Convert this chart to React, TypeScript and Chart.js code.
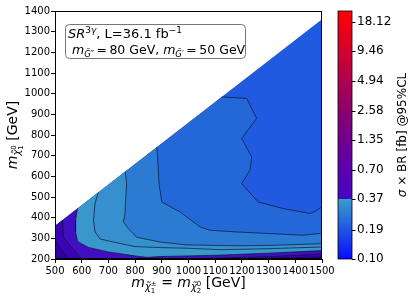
import React, { useEffect, useRef } from "react";
import { Chart, registerables } from "chart.js";

Chart.register(...registerables);

// ---------- axis ranges & ticks ----------
const xMin = 500;
const xMax = 1500;
const yMin = 200;
const yMax = 1400;
const xTicks = [500, 600, 700, 800, 900, 1000, 1100, 1200, 1300, 1400, 1500];
const yTicks = [200, 300, 400, 500, 600, 700, 800, 900, 1000, 1100, 1200, 1300, 1400];
const cbTicks = [0.1, 0.19, 0.37, 0.7, 1.35, 2.58, 4.94, 9.46, 18.12];
const cbMin = 0.1;
const cbMax = 22.9;

type P = [number, number];

// kinematic edge of the scanned grid (upper-left limit)
const kinEdge: P[] = [[500, 360], [1500, 1360]];

// contour lines (from lowest level, top-right, to highest, bottom-left)
const contour1: P[] = [[1124, 984], [1218, 977], [1255, 880], [1199, 783], [1237, 694], [1230, 630], [1199, 565], [1261, 476], [1355, 444], [1455, 420], [1480, 436], [1500, 452]];
const contour2: P[] = [[881, 741], [884, 700], [890, 560], [900, 476], [969, 427], [1044, 355], [1081, 339], [1180, 331], [1305, 323], [1430, 315], [1500, 325]];
const contour3: P[] = [[763, 623], [768, 565], [762, 420], [756, 380], [775, 347], [806, 305], [894, 282], [994, 268], [1055, 267], [1180, 264], [1305, 266], [1500, 274]];
const contour4: P[] = [[662, 522], [650, 470], [644, 387], [650, 331], [669, 297], [725, 280], [800, 260], [900, 255], [1000, 252], [1118, 245], [1305, 250], [1500, 258]];
const contour5: P[] = [[584, 444], [577, 387], [577, 331], [585, 284], [625, 256], [700, 234], [800, 215], [844, 208], [894, 212], [994, 215], [1100, 218], [1300, 228], [1500, 241]];
const contour6Corner: P[] = [[529, 389], [531, 307], [556, 266], [600, 200]];
const contour6Bottom: P[] = [[950, 200], [1150, 206], [1350, 214], [1500, 224]];
const contour7Corner: P[] = [[500, 290], [525, 240], [552, 200]];
const contour7Bottom: P[] = [[1150, 200], [1350, 205], [1500, 211]];

// band fill colours (lowest to highest)
const bandColors = ["#1f5ae0", "#2468d8", "#2b7bd3", "#3590cd", "#3a97cc", "#4010c0", "#3a04b4", "#3300a6"];

// colormap stops for the colour bar
const cmapValues = [0.1, 0.19, 0.369, 0.371, 0.7, 1.35, 2.58, 4.94, 9.46, 18.12, 22.9];
const cmapColors = ["#0a0aff", "#1f55e2", "#3a9bcf", "#4608c6", "#5a00b0", "#700090", "#8c0070", "#b00050", "#d40030", "#f40010", "#ff0000"];

const FAMILY = '"DejaVu Sans", sans-serif';

const toPts = (a: P[]) => a.map(([x, y]) => ({ x, y }));
const below = (c: P[]): P[] => [kinEdge[0], ...c, [xMax, yMin], [xMin, yMin]];

const layers: { poly: P[]; color: string }[] = [
  { poly: [kinEdge[0], kinEdge[1], [xMax, yMin], [xMin, yMin]], color: bandColors[0] },
  { poly: below(contour1), color: bandColors[1] },
  { poly: below(contour2), color: bandColors[2] },
  { poly: below(contour3), color: bandColors[3] },
  { poly: below(contour4), color: bandColors[4] },
  { poly: below(contour5), color: bandColors[5] },
  { poly: [kinEdge[0], ...contour6Corner, [xMin, yMin]], color: bandColors[6] },
  { poly: [...contour6Bottom, [xMax, yMin]], color: bandColors[6] },
  { poly: [...contour7Corner, [xMin, yMin]], color: bandColors[7] },
  { poly: [...contour7Bottom, [xMax, yMin]], color: bandColors[7] },
];
const lines: P[][] = [contour1, contour2, contour3, contour4, contour5, contour6Corner, contour6Bottom, contour7Corner, contour7Bottom];

// ---------- rich text helper ----------
type Piece = { t: string; size: number; it?: boolean; dy?: number };
type Run = Piece | { stack: Piece[] };
const fnt = (s: number, it?: boolean) => `${it ? "italic " : ""}${s}px ${FAMILY}`;
function runW(ctx: CanvasRenderingContext2D, r: Run) {
  const parts = "stack" in r ? r.stack : [r];
  let w = 0;
  for (const p of parts) {
    ctx.font = fnt(p.size, p.it);
    w = Math.max(w, ctx.measureText(p.t).width);
  }
  return w;
}
function drawRuns(ctx: CanvasRenderingContext2D, runs: Run[], x: number, y: number, center: boolean) {
  const total = runs.reduce((a, r) => a + runW(ctx, r), 0);
  let cx = center ? x - total / 2 : x;
  ctx.textAlign = "left";
  ctx.textBaseline = "alphabetic";
  for (const r of runs) {
    const w = runW(ctx, r);
    const parts = "stack" in r ? r.stack : [r];
    for (const p of parts) {
      ctx.font = fnt(p.size, p.it);
      ctx.fillText(p.t, cx, y + (p.dy || 0));
    }
    cx += w;
  }
}

const CHI = "\u03C7\u0303";
const GT = "G\u0303";
const TS = "\u2009";

const decor = {
  id: "decor",
  afterDraw(chart: any) {
    const ctx: CanvasRenderingContext2D = chart.ctx;
    const a = chart.chartArea;
    ctx.save();
    // frame
    ctx.strokeStyle = "#000";
    ctx.lineWidth = 1;
    ctx.strokeRect(Math.round(a.left) + 0.5, Math.round(a.top) + 0.5, Math.round(a.right - a.left) - 1, Math.round(a.bottom - a.top) - 1);

    // colour bar
    const cb = chart.scales.cb;
    const x0 = a.right + 16;
    const w = 14;
    const top = cb.getPixelForValue(cbMax);
    const bot = cb.getPixelForValue(cbMin);
    const g = ctx.createLinearGradient(0, bot, 0, top);
    cmapValues.forEach((v, i) => {
      const f = (bot - cb.getPixelForValue(v)) / (bot - top);
      g.addColorStop(Math.min(1, Math.max(0, f)), cmapColors[i]);
    });
    ctx.fillStyle = g;
    ctx.fillRect(x0, top, w, bot - top);
    ctx.strokeStyle = "#000";
    ctx.lineWidth = 0.8;
    ctx.strokeRect(x0, top, w, bot - top);
    ctx.lineWidth = 1;
    for (const v of cbTicks) {
      const y = Math.round(cb.getPixelForValue(v)) + 0.5;
      ctx.beginPath();
      ctx.moveTo(x0 + w, y);
      ctx.lineTo(x0 + w + 3.5, y);
      ctx.stroke();
    }

    ctx.fillStyle = "#000";
    // colour bar label
    ctx.save();
    ctx.translate(406, (top + bot) / 2);
    ctx.rotate(-Math.PI / 2);
    drawRuns(ctx, [{ t: "\u03C3", size: 12, it: true }, { t: " \u00D7 BR [fb] @95%CL", size: 12 }], 0, 0, true);
    ctx.restore();

    // y title
    ctx.save();
    ctx.translate(17, (a.top + a.bottom) / 2);
    ctx.rotate(-Math.PI / 2);
    drawRuns(ctx, [
      { t: "m", size: 14, it: true },
      { t: CHI, size: 10, it: true, dy: 3 },
      { stack: [{ t: "0", size: 7, dy: -1 }, { t: "1", size: 7, dy: 6 }] },
      { t: " [GeV]", size: 14 },
    ], 0, 0, true);
    ctx.restore();

    // x title
    drawRuns(ctx, [
      { t: "m", size: 14, it: true },
      { t: CHI, size: 10, it: true, dy: 3 },
      { stack: [{ t: "\u00B1", size: 7, dy: -1 }, { t: "1", size: 7, dy: 6 }] },
      { t: " = ", size: 14 },
      { t: "m", size: 14, it: true },
      { t: CHI, size: 10, it: true, dy: 3 },
      { stack: [{ t: "0", size: 7, dy: -1 }, { t: "2", size: 7, dy: 6 }] },
      { t: " [GeV]", size: 14 },
    ], (a.left + a.right) / 2, 287, true);

    // annotation box
    ctx.beginPath();
    (ctx as any).roundRect(65.5, 24.5, 180, 34, 4);
    ctx.fillStyle = "rgba(255,255,255,0.85)";
    ctx.fill();
    ctx.strokeStyle = "#777";
    ctx.lineWidth = 1;
    ctx.stroke();
    ctx.fillStyle = "#000";
    drawRuns(ctx, [
      { t: "SR", size: 13, it: true },
      { t: "3", size: 9, dy: -5 },
      { t: "\u03B3", size: 9, it: true, dy: -5 },
      { t: ", L=36.1 fb", size: 13 },
      { t: "\u22121", size: 9, dy: -5 },
    ], 68, 38, false);
    drawRuns(ctx, [
      { t: "m", size: 12.5, it: true },
      { t: GT + "\u2033", size: 8.5, it: true, dy: 3 },
      { t: TS + "=" + TS + "80 GeV, ", size: 12.5 },
      { t: "m", size: 12.5, it: true },
      { t: GT + "\u2032", size: 8.5, it: true, dy: 3 },
      { t: TS + "=" + TS + "50 GeV", size: 12.5 },
    ], 72, 54, false);
    ctx.restore();
  },
};

export default function App() {
  const ref = useRef<HTMLCanvasElement>(null);
  useEffect(() => {
    const datasets: any[] = [];
    layers.forEach((l, i) => {
      datasets.push({
        data: toPts(l.poly),
        showLine: true,
        fill: "shape",
        backgroundColor: l.color,
        borderColor: "transparent",
        borderWidth: 1,
        pointRadius: 0,
        order: 100 - i,
      });
    });
    lines.forEach((c) => {
      datasets.push({
        data: toPts(c),
        showLine: true,
        fill: false,
        borderColor: "rgba(15,15,45,0.85)",
        borderWidth: 0.8,
        pointRadius: 0,
        order: 0,
      });
    });
    const tickFont = { family: FAMILY, size: 10 };
    const noPad = (s: any) => { s.paddingTop = 0; s.paddingBottom = 0; };
    const chart = new Chart(ref.current!, {
      type: "scatter",
      data: { datasets },
      options: {
        animation: false,
        responsive: false,
        events: [],
        layout: { padding: { top: 11, left: 0, right: 0, bottom: 0 } },
        plugins: { legend: { display: false }, tooltip: { enabled: false } },
        scales: {
          x: {
            type: "linear",
            min: xMin,
            max: xMax,
            afterBuildTicks: (s: any) => { s.ticks = xTicks.map((v) => ({ value: v })); },
            afterFit: (s: any) => { s.height = 41; s.paddingLeft = 0; s.paddingRight = 0; },
            ticks: { autoSkip: false, maxRotation: 0, color: "#000", font: tickFont, padding: 2, callback: (v: any) => String(v) },
            grid: { drawOnChartArea: false, tickLength: 4, tickColor: "#000" },
            border: { color: "#000" },
          },
          y: {
            type: "linear",
            min: yMin,
            max: yMax,
            afterBuildTicks: (s: any) => { s.ticks = yTicks.map((v) => ({ value: v })); },
            afterFit: (s: any) => { s.width = 55; noPad(s); },
            ticks: { autoSkip: false, color: "#000", font: tickFont, padding: 1, callback: (v: any) => String(v) },
            grid: { drawOnChartArea: false, tickLength: 4, tickColor: "#000" },
            border: { color: "#000" },
          },
          cb: {
            type: "logarithmic",
            position: "right",
            min: cbMin,
            max: cbMax,
            bounds: "data",
            afterBuildTicks: (s: any) => { s.ticks = cbTicks.map((v) => ({ value: v })); },
            afterFit: (s: any) => { s.width = 93; noPad(s); },
            ticks: { autoSkip: false, color: "#000", font: { family: FAMILY, size: 12 }, padding: 35, callback: (v: any) => Number(v).toFixed(2) },
            grid: { display: false, drawTicks: false },
            border: { display: false },
          },
        },
      } as any,
      plugins: [decor],
    });
    return () => chart.destroy();
  }, []);
  return (
    <div style={{ position: "fixed", left: 0, top: 0, width: 415, height: 300 }}>
      <canvas ref={ref} width={415} height={300} style={{ display: "block" }} />
    </div>
  );
}
